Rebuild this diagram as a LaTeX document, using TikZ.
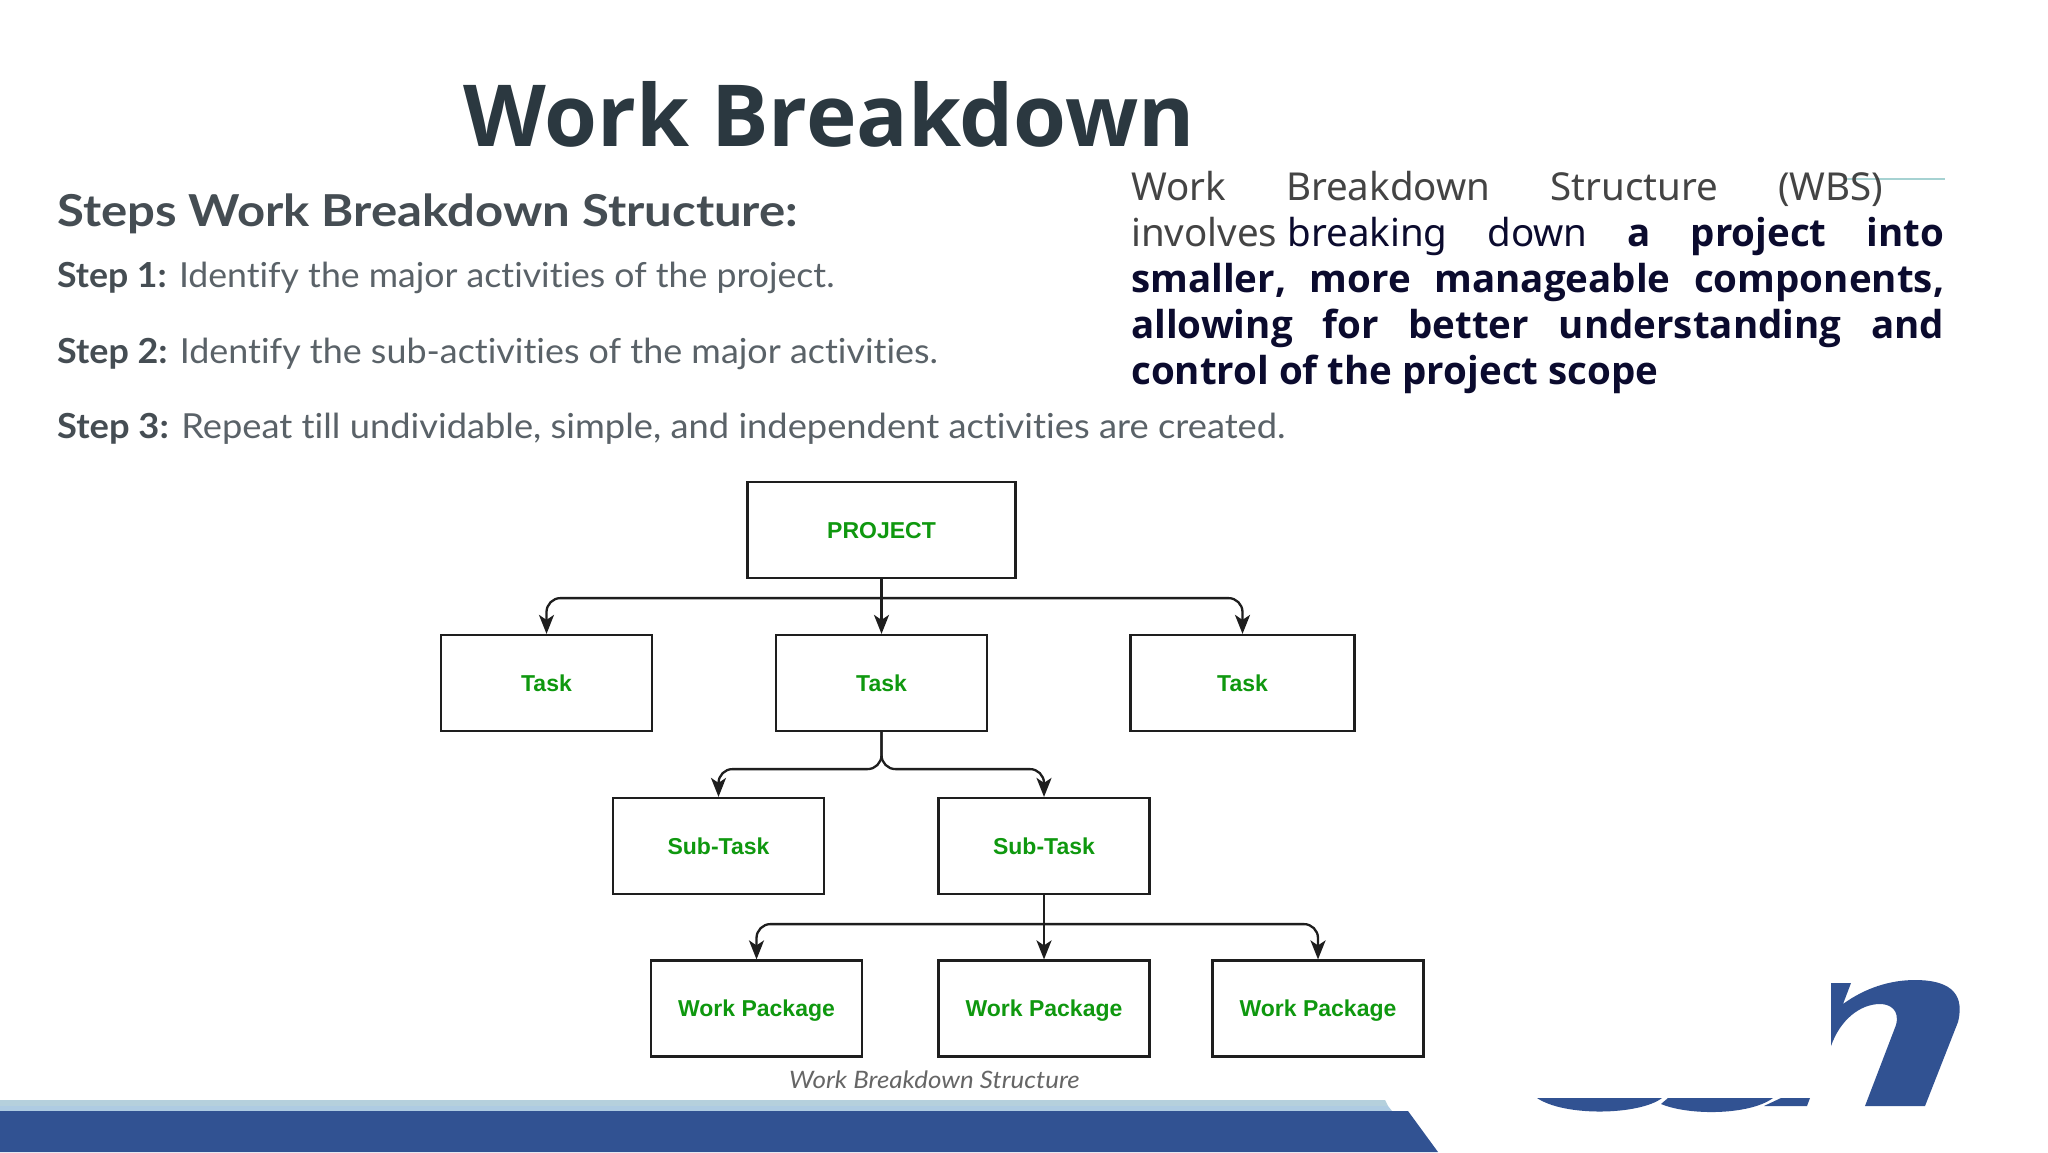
\documentclass[tikz,border=0pt]{standalone}
\usepackage{fontspec}
\usetikzlibrary{arrows.meta}
\setmainfont{Noto Sans}
\newfontfamily\boldfam{Open Sans}
\newfontfamily\stepfont{Lato}[FakeStretch=1.04,Ligatures=NoCommon]
\newfontfamily\stepfontA{Lato}[FakeStretch=1.033,Ligatures=NoCommon]
\newfontfamily\stepfontC{Lato}[FakeStretch=1.052,Ligatures=NoCommon]
\newfontfamily\headfont{Lato}[FakeStretch=1.115,Ligatures=NoCommon]
\newfontfamily\capfont{Lato}[FakeStretch=1.08,Ligatures=NoCommon]
\newfontfamily\boxfont{Liberation Sans}
\newcommand{\heavy}[1]{{\boldfam\bfseries #1}}
\definecolor{titlecol}{HTML}{2B3840}
\definecolor{stepcol}{HTML}{5A6268}
\definecolor{boldcol}{HTML}{454D53}
\definecolor{greycol}{HTML}{444444}
\definecolor{navycol}{HTML}{0B0B2E}
\definecolor{greencol}{HTML}{0F980F}
\definecolor{bandblue}{HTML}{315292}
\definecolor{bandlight}{HTML}{AECBE2}
\definecolor{bandpale}{HTML}{B5D0DC}
\definecolor{linecol}{HTML}{1E1E1E}
\tikzset{
  box/.style={draw=linecol,line width=2.2pt,fill=white,inner sep=0pt,text height=16pt,text depth=0pt,font=\boxfont\bfseries\fontsize{23}{26}\selectfont,text=greencol},
  conn/.style={draw=linecol,line width=2.3pt,-{Stealth[length=19pt,width=15pt,inset=5pt]}},
  round/.style={rounded corners=14pt},
  steptext/.style={anchor=base west,inner sep=0pt,text=stepcol,font=\stepfont\fontsize{34.5}{38}\selectfont},
  wbs/.style={anchor=base west,inner sep=0pt,font=\fontsize{38.5}{46}\selectfont},
}
\begin{document}
\begin{tikzpicture}[x=1pt,y=-1pt]
\useasboundingbox (0,0) rectangle (2048,1152);
\fill[white] (0,0) rectangle (2048,1152);
% footer
\fill[bandpale] (0,1100) -- (1385,1100) -- (1388,1106) -- (0,1106) -- cycle;
\fill[bandlight] (0,1106) -- (1388,1106) -- (1392,1111) -- (0,1111) -- cycle;
\fill[bandblue] (0,1111) -- (1408,1111) -- (1438,1152) -- (0,1152) -- cycle;
% logo fragment
\fill[bandblue] (1831,983) -- (1851,983) -- (1843,1004) .. controls (1865,988) and (1890,980) .. (1915,980) .. controls (1945,980) and (1966,990) .. (1958,1022) -- (1925,1106) -- (1865,1106) -- (1896,1025) .. controls (1900,1010) and (1890,1004) .. (1880,1004) .. controls (1860,1004) and (1840,1020) .. (1831,1046) -- cycle;
\fill[bandblue] (1537,1098) -- (1662,1098) .. controls (1640,1115) and (1565,1117) .. (1537,1098) -- cycle;
\fill[bandblue] (1661,1104) -- (1668,1098) -- (1773,1098) .. controls (1750,1115) and (1690,1116) .. (1661,1104) -- cycle;
\fill[bandblue] (1764,1106) -- (1781,1098) -- (1810,1098) -- (1807,1106) -- cycle;
% title
\node[anchor=base west,inner sep=0pt,text=titlecol,font=\boldfam\bfseries\fontsize{85.6}{100}\selectfont] (title) at (463,146) {Work Breakdown};
% steps
\node[steptext,font=\headfont\bfseries\fontsize{44}{48}\selectfont,text=boldcol] (heading) at (57,226.5) {Steps Work Breakdown Structure:};
\node[steptext,font=\stepfontA\fontsize{34.5}{38}\selectfont] (s1text) at (57,287) {\textcolor{boldcol}{\bfseries Step 1:} Identify the major activities of the project.};
\node[steptext] (s2text) at (57,363) {\textcolor{boldcol}{\bfseries Step 2:} Identify the sub-activities of the major activities.};
\node[steptext,font=\stepfontC\fontsize{34.5}{38}\selectfont] (s3text) at (57,438) {\textcolor{boldcol}{\bfseries Step 3:} Repeat till undividable, simple, and independent activities are created.};
% teal rule
\coordinate (ruleA) at (1847,179);
\coordinate (ruleB) at (1945,179);
\draw[color=teal!35,line width=1.2pt] (ruleA) -- (ruleB);
% paragraph
\node[wbs,text=greycol] (w1) at (1131,200) {\hbox to 752pt{Work\hfill Breakdown\hfill Structure\hfill (WBS)}};
\node[wbs,text=navycol] (w2) at (1131,246) {\hbox to 813pt{\textcolor{greycol}{involves} breaking\hfill down\hfill \heavy{a}\hfill \heavy{project}\hfill \heavy{into}}};
\node[wbs,text=navycol] (w3) at (1131,292) {\hbox to 813pt{\boldfam\bfseries smaller,\hfill more\hfill manageable\hfill components,}};
\node[wbs,text=navycol] (w4) at (1131,338) {\hbox to 813pt{\boldfam\bfseries allowing\hfill for\hfill better\hfill understanding\hfill and}};
\node[wbs,text=navycol,font=\boldfam\bfseries\fontsize{38.5}{46}\selectfont] (w5) at (1131,384) {control of the project scope};
% boxes
\node[box,minimum width=268pt,minimum height=96pt] (project) at (881.5,530) {PROJECT};
\node[box,minimum width=211pt,minimum height=96pt] (t1) at (546.5,683) {Task};
\node[box,minimum width=211pt,minimum height=96pt] (t2) at (881.5,683) {Task};
\node[box,minimum width=224pt,minimum height=96pt] (t3) at (1242.5,683) {Task};
\node[box,minimum width=211pt,minimum height=96pt] (s1) at (718.5,846) {Sub-Task};
\node[box,minimum width=211pt,minimum height=96pt] (s2) at (1044,846) {Sub-Task};
\node[box,minimum width=211pt,minimum height=96pt] (p1) at (756.5,1008.5) {Work Package};
\node[box,minimum width=211pt,minimum height=96pt] (p2) at (1044,1008.5) {Work Package};
\node[box,minimum width=211pt,minimum height=96pt] (p3) at (1318,1008.5) {Work Package};
% junction points on the trunks
\path (project.south) ++(0,19) coordinate (j1);
\path (s2.south) ++(0,29) coordinate (j2);
% connectors
\draw[conn] (project.south) -- (t2.north);
\draw[conn,round] (j1) -| (t1.north);
\draw[conn,round] (j1) -| (t3.north);
\draw[conn,round] (t2.south) -- ++(0,37) -| (s1.north);
\draw[conn,round] (t2.south) -- ++(0,37) -| (s2.north);
\draw[conn] (s2.south) -- (p2.north);
\draw[conn,round] (j2) -| (p1.north);
\draw[conn,round] (j2) -| (p3.north);
% caption
\node[anchor=base west,inner sep=0pt,text=black!60,font=\capfont\itshape\fontsize{24}{27}\selectfont] (caption) at (789,1088) {Work Breakdown Structure};
\end{tikzpicture}
\end{document}
